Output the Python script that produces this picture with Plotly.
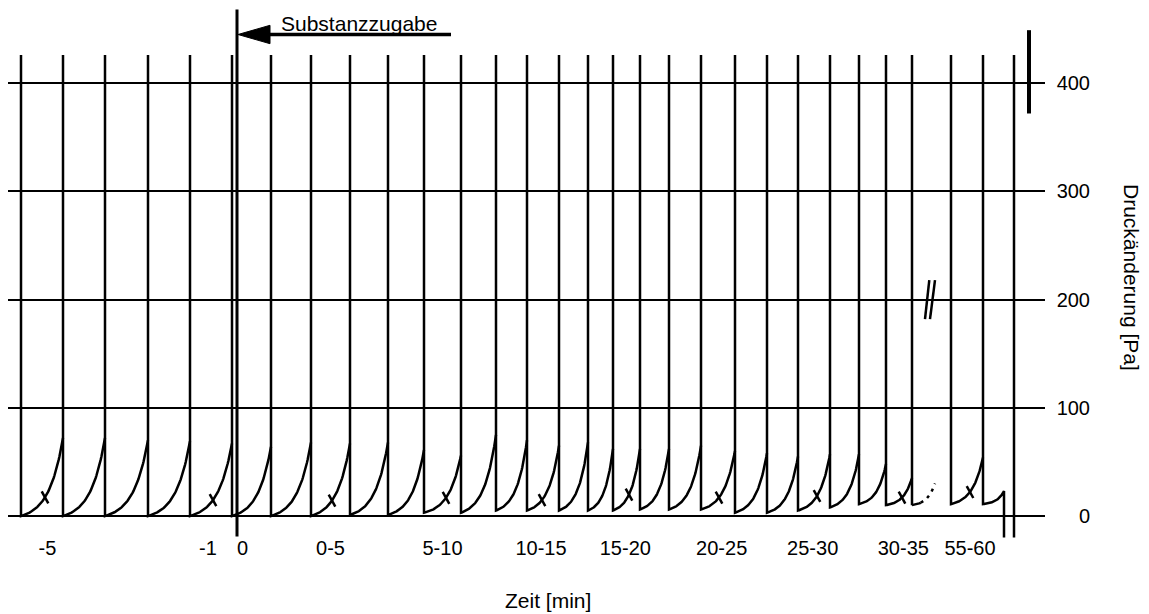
import numpy as np
import plotly.graph_objects as go

# ---------------- data ----------------
# time positions (chart units) where each pressure cycle starts / ends
t_start = [21, 63, 105, 148, 190, 232, 271, 311, 350, 388, 424, 461, 496, 527,
           559, 588, 613, 640, 669, 701, 735, 767, 798, 830, 859, 886, 951, 983]
t_end = [63, 105, 148, 190, 232, 271, 311, 350, 388, 424, 461, 496, 527, 559,
         588, 613, 640, 669, 701, 735, 767, 798, 830, 859, 886, 912, 983, 1004]
# pressure at the start (after reset) and at the end of each cycle [Pa]
base_pa = [0, 0, 0, 0, 0, 0, 0, 0, 1, 1, 3, 3, 5, 5, 5, 5, 5, 6, 6, 6, 3, 3,
           5, 8, 11, 10, 11, 11]
peak_pa = [72, 72, 70, 69, 67, 64, 68, 67, 68, 61, 56, 75, 70, 65, 68, 62, 62,
           62, 65, 60, 58, 55, 57, 57, 48, 35, 54, 23]
reset_top_pa = 426          # pressure spikes leave the chart
# interrupted recording (dotted continuation)
gap_t = [912, 935]
gap_pa = [10, 30]
# end of recording
end_drop_t = 1004
end_line_t = 1014
end_low_pa = -20
# marked cycles (index into the cycle lists) and where the mark sits
mark_cycle = [0, 4, 7, 10, 13, 16, 19, 22, 25, 26]
mark_t = [45, 213, 332, 446, 542, 629, 719, 817, 902, 970]
# x tick labels
xtick_pos = [47.5, 208, 242.5, 330.5, 442.5, 541, 625.3, 721.7, 812.7, 903.3, 970]
xtick_text = ["-5", "-1", "0", "0-5", "5-10", "10-15", "15-20", "20-25",
              "25-30", "30-35", "55-60"]
ytick_vals = [0, 100, 200, 300, 400]
# substance addition marker
sub_t = 237
sub_pa = [468, -19]
arrow_tail_t = 451
arrow_base_t = 270
arrow_pa = 445
# scale bar and break symbol
scale_t = 1029
scale_pa = [449, 372]
break_t = [[925, 929.3], [930, 935]]
break_pa = [182, 218]

K = 3.0


def curve(b, p, u):
    return b + (p - b) * (np.exp(K * u) - 1) / (np.exp(K) - 1)


BLACK = "black"
FONT = "Liberation Sans, Arial, sans-serif"

# ---------------- build trace path ----------------
xs, ys = [], []
for i, (s, e, b, p) in enumerate(zip(t_start, t_end, base_pa, peak_pa)):
    xs += [s, s]
    ys += [reset_top_pa, b]
    u = np.linspace(0, 1, 60)
    xs += list(s + u * (e - s))
    ys += list(curve(b, p, u))
    if i == len(t_start) - 1:
        xs.append(end_drop_t)
        ys.append(end_low_pa)
    xs.append(None)
    ys.append(None)
# reset line before the interrupted cycle
xs += [gap_t[0], gap_t[0], None]
ys += [reset_top_pa, gap_pa[0], None]
# final line
xs += [end_line_t, end_line_t, None]
ys += [reset_top_pa, end_low_pa, None]

# dotted continuation
ug = np.linspace(0, 1, 30)
gx = list(gap_t[0] + ug * (gap_t[1] - gap_t[0]))
gy = list(curve(gap_pa[0], gap_pa[1], ug))

# marks
mx, my = [], []
for ci, t in zip(mark_cycle, mark_t):
    s, e = t_start[ci], t_end[ci]
    u = (t - s) / (e - s)
    yc = curve(base_pa[ci], peak_pa[ci], u)
    mx += [t - 3.3, t + 3.3, None]
    my += [yc + 5.5, yc - 5.5, None]

fig = go.Figure()
fig.add_trace(go.Scatter(x=xs, y=ys, mode="lines",
                         line=dict(color=BLACK, width=2.5), hoverinfo="skip"))
fig.add_trace(go.Scatter(x=gx[:12], y=gy[:12], mode="lines",
                         line=dict(color=BLACK, width=2.5), hoverinfo="skip"))
fig.add_trace(go.Scatter(x=gx[11:], y=gy[11:], mode="lines",
                         line=dict(color=BLACK, width=2.5, dash="3px,5px"),
                         hoverinfo="skip"))
fig.add_trace(go.Scatter(x=mx, y=my, mode="lines",
                         line=dict(color=BLACK, width=2.5), hoverinfo="skip"))
# substance addition line
fig.add_trace(go.Scatter(x=[sub_t, sub_t], y=sub_pa, mode="lines",
                         line=dict(color=BLACK, width=3), hoverinfo="skip"))
# arrow shaft
fig.add_trace(go.Scatter(x=[arrow_tail_t, arrow_base_t], y=[arrow_pa, arrow_pa],
                         mode="lines", line=dict(color=BLACK, width=3.5),
                         hoverinfo="skip"))
# arrow head
fig.add_trace(go.Scatter(x=[sub_t + 1, arrow_base_t, arrow_base_t, sub_t + 1],
                         y=[arrow_pa, arrow_pa + 8.5, arrow_pa - 8.5, arrow_pa],
                         mode="lines", fill="toself", fillcolor=BLACK,
                         line=dict(color=BLACK, width=1), hoverinfo="skip"))
# scale bar
fig.add_trace(go.Scatter(x=[scale_t, scale_t], y=scale_pa, mode="lines",
                         line=dict(color=BLACK, width=4), hoverinfo="skip"))
# break symbol
for bt in break_t:
    fig.add_trace(go.Scatter(x=bt, y=break_pa, mode="lines",
                             line=dict(color=BLACK, width=2.5), hoverinfo="skip"))

# page has an 8px body margin: figure is drawn 8px right/down
OFF = 8
W, H = 1149 - OFF, 614 - OFF
PB = 540 - OFF          # plot bottom inside the figure
fig.update_layout(
    width=W, height=H,
    margin=dict(l=0, r=0, t=0, b=H - PB),
    paper_bgcolor="white", plot_bgcolor="white",
    showlegend=False,
    font=dict(family=FONT, size=20, color=BLACK),
    xaxis=dict(domain=[0, (1045 - OFF) / W], range=[8, 1045],
               showgrid=False, zeroline=False, showline=False,
               ticks="", tickmode="array", tickvals=xtick_pos,
               ticktext=xtick_text, ticklabelstandoff=-6,
               tickfont=dict(size=20, family=FONT)),
    yaxis=dict(range=[-22.2, 469.5], anchor="free",
               position=(1090 - OFF) / W,
               side="left", showgrid=True, gridcolor=BLACK, gridwidth=2,
               zeroline=False, showline=False, ticks="",
               tickmode="array", tickvals=ytick_vals,
               tickfont=dict(size=20, family=FONT)),
    annotations=[
        dict(text="Substanzzugabe", x=359, y=455.5, xref="x", yref="y",
             showarrow=False, font=dict(size=21, family=FONT),
             xanchor="center", yanchor="middle"),
        dict(text="Zeit [min]", x=(548 - OFF) / W, y=(PB - (600 - OFF)) / PB,
             xref="paper", yref="paper", showarrow=False,
             font=dict(size=21, family=FONT),
             xanchor="center", yanchor="middle"),
        dict(text="Druckänderung [Pa]", x=(1132 - OFF) / W,
             y=(PB - (277 - OFF)) / PB,
             xref="paper", yref="paper", showarrow=False, textangle=90,
             font=dict(size=21, family=FONT), xanchor="center",
             yanchor="middle"),
    ],
)

fig.write_html("out.html")
